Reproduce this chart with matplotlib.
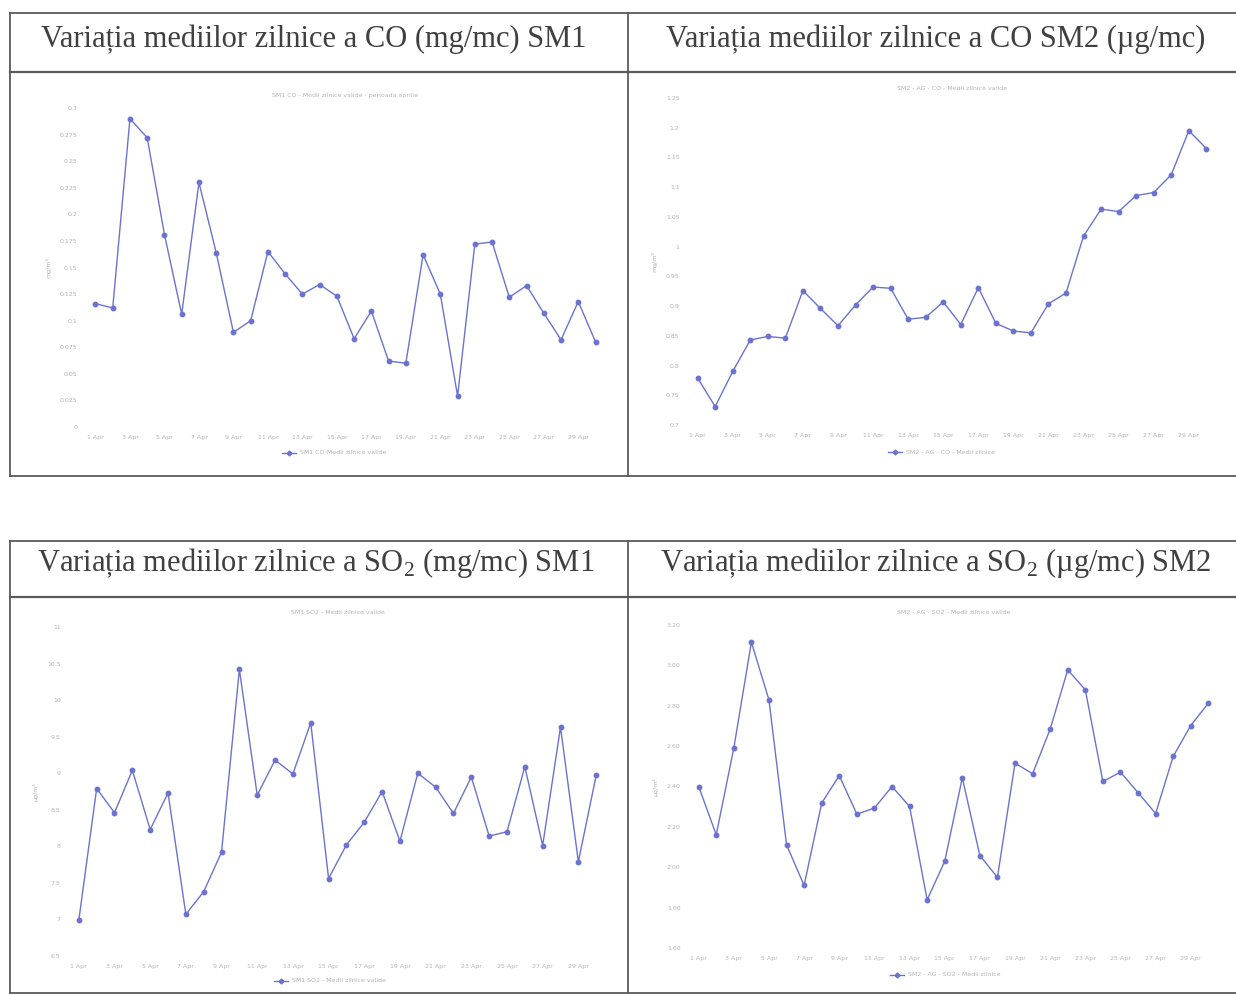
import matplotlib.pyplot as plt

plt.rcParams['mathtext.fontset'] = 'custom'
plt.rcParams['mathtext.rm'] = 'Liberation Serif'

W, H = 1236, 994

days = list(range(1, 31))
tick_days = list(range(1, 31, 2))
tick_labels = [f"{d} Apr" for d in tick_days]

co_sm1 = [0.116, 0.112, 0.290, 0.272, 0.181, 0.106, 0.230, 0.164, 0.089, 0.100,
          0.165, 0.144, 0.125, 0.134, 0.123, 0.083, 0.109, 0.062, 0.060, 0.162,
          0.125, 0.029, 0.172, 0.174, 0.122, 0.133, 0.107, 0.082, 0.118, 0.080]
co_sm2 = [0.779, 0.731, 0.790, 0.843, 0.849, 0.846, 0.926, 0.896, 0.867, 0.902,
          0.932, 0.930, 0.878, 0.881, 0.907, 0.869, 0.931, 0.871, 0.858, 0.855,
          0.904, 0.922, 1.018, 1.063, 1.059, 1.086, 1.091, 1.121, 1.195, 1.165]
so2_sm1 = [6.99, 8.79, 8.46, 9.04, 8.23, 8.73, 7.07, 7.38, 7.92, 10.42,
           8.70, 9.18, 8.99, 9.69, 7.56, 8.02, 8.33, 8.75, 8.07, 9.00,
           8.81, 8.45, 8.95, 8.14, 8.20, 9.09, 8.01, 9.63, 7.79, 8.97]
so2_sm2 = [2.400, 2.161, 2.590, 3.115, 2.829, 2.111, 1.910, 2.318, 2.454, 2.263,
           2.293, 2.400, 2.301, 1.839, 2.029, 2.443, 2.058, 1.950, 2.516, 2.463,
           2.684, 2.978, 2.879, 2.425, 2.471, 2.370, 2.266, 2.549, 2.702, 2.813]

headers = [
    "Variația mediilor zilnice a CO (mg/mc) SM1",
    "Variația mediilor zilnice a CO SM2 (µg/mc)",
    "Variația mediilor zilnice a SO$_2$ (mg/mc) SM1",
    "Variația mediilor zilnice a SO$_2$ (µg/mc) SM2",
]

line_color = '#6b73cf'
faint = '#b4b4b4'

fig = plt.figure(figsize=(W / 100, H / 100), dpi=100)
fig.patch.set_facecolor('white')

# overlay for the table frame
frame = fig.add_axes([0, 0, 1, 1])
frame.set_xlim(0, W)
frame.set_ylim(H, 0)
frame.axis('off')
grey = '#5a5a5a'
for top, sep, bottom in [(13, 72, 476), (541, 597, 993)]:
    frame.plot([10, W], [top, top], color=grey, lw=1.3)
    frame.plot([10, W], [sep, sep], color=grey, lw=1.6)
    frame.plot([10, W], [bottom, bottom], color=grey, lw=1.3)
    frame.plot([10, 10], [top, bottom], color=grey, lw=1.3)
    frame.plot([628, 628], [top, bottom], color=grey, lw=1.3)

header_pos = [(314, 39), (936, 39), (316, 563), (936, 563)]
for (hx, hy), txt in zip(header_pos, headers):
    frame.text(hx, hy, txt, ha='center', va='center', fontsize=22,
               family='Liberation Serif', color='#404040')

# (left, right, top, bottom) of plot area in pixels, y-limits, ticks
charts = [
    dict(box=(86, 605, 108, 427), data=co_sm1, ylim=(0, 0.3), step=0.025, fmt='{:g}',
         unit='mg/m³', title='SM1 CO - Medii zilnice valide - perioada aprilie',
         legend='SM1 CO-Medii zilnice valide', ty=95, ly=453),
    dict(box=(688, 1216, 98, 425), data=co_sm2, ylim=(0.7, 1.25), step=0.05, fmt='{:g}',
         unit='mg/m³', title='SM2 - AG - CO - Medii zilnice valide',
         legend='SM2 - AG - CO - Medii zilnice', ty=88, ly=452),
    dict(box=(69, 606, 627, 956), data=so2_sm1, ylim=(6.5, 11), step=0.5, fmt='{:g}',
         unit='µg/m³', title='SM1 SO2 - Medii zilnice valide',
         legend='SM1 SO2 - Medii zilnice valide', ty=613, ly=981),
    dict(box=(689, 1218, 625, 948), data=so2_sm2, ylim=(1.6, 3.2), step=0.2, fmt='{:.2f}',
         unit='µg/m³', title='SM2 - AG - SO2 - Medii zilnice valide',
         legend='SM2 - AG - SO2 - Medii zilnice', ty=612, ly=975),
]

for c in charts:
    L, R, T, B = c['box']
    ax = fig.add_axes([L / W, 1 - B / H, (R - L) / W, (B - T) / H])
    ax.set_facecolor('none')
    ax.plot(days, c['data'], color=line_color, lw=1.0, marker='o', ms=3.2)
    ax.set_xlim(0.45, 30.55)
    lo, hi = c['ylim']
    ax.set_ylim(lo, hi)
    n = int(round((hi - lo) / c['step']))
    yt = [lo + i * c['step'] for i in range(n + 1)]
    ax.set_yticks(yt)
    ax.set_yticklabels([c['fmt'].format(round(v, 3)) for v in yt])
    ax.set_xticks(tick_days)
    ax.set_xticklabels(tick_labels)
    ax.tick_params(length=0, labelsize=4.5, colors=faint, pad=6)
    for s in ax.spines.values():
        s.set_visible(False)
    ax.set_ylabel(c['unit'], fontsize=4.5, color=faint, labelpad=6)
    cx = (L + R) / 2
    frame.text(cx, c['ty'], c['title'], ha='center', va='center', fontsize=4.5, color=faint)
    frame.plot([cx - 64, cx - 57, cx - 50], [c['ly']] * 3, color=line_color, lw=1,
               marker='D', ms=2.5, markevery=[1])
    frame.text(cx - 46, c['ly'], c['legend'], ha='left', va='center', fontsize=4.5, color=faint)

fig.savefig('out.png', dpi=100, facecolor='white')
